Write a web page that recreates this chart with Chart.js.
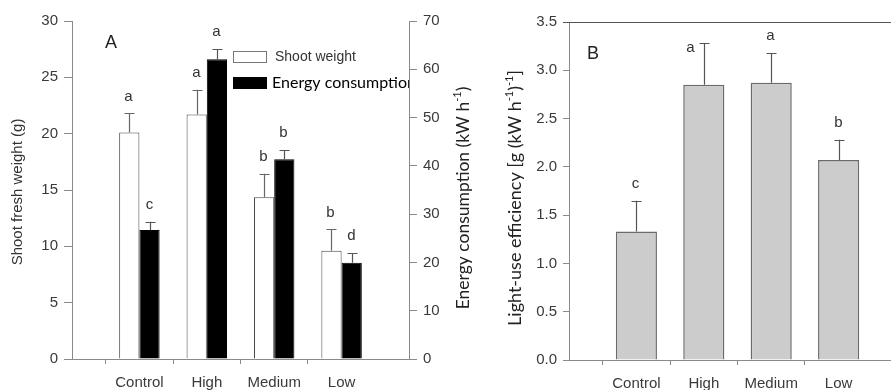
<!DOCTYPE html>
<html>
<head>
<meta charset="utf-8">
<script src="https://cdn.jsdelivr.net/npm/chart.js@4.4.0/dist/chart.umd.min.js"></script>
<style>
  html, body { margin: 0; padding: 0; width: 891px; height: 390px; overflow: hidden; background: #fff; }
  #wrap { position: relative; width: 891px; height: 390px; overflow: hidden; }
  #cA { position: absolute; left: 0; top: 0; }
  #cB { position: absolute; left: 480px; top: 0; }
</style>
</head>
<body>
<div id="wrap">
  <canvas id="cA" width="490" height="390"></canvas>
  <canvas id="cB" width="440" height="390"></canvas>
</div>
<script>
// ---------- data ----------
const categories = ['Control', 'High', 'Medium', 'Low'];
const shootWeight = [20.1, 21.7, 14.35, 9.6];
const shootWeightErr = [1.7, 2.2, 2.1, 1.9];
const shootLetters = ['a', 'a', 'b', 'b'];
const energyUse = [26.7, 62.1, 41.35, 19.95];
const energyUseErr = [1.7, 2.1, 1.95, 2.0];
const energyLetters = ['c', 'a', 'b', 'd'];
const lightUseEff = [1.33, 2.85, 2.87, 2.07];
const lightUseEffErr = [0.32, 0.43, 0.31, 0.21];
const lightUseLetters = ['c', 'a', 'a', 'b'];
const leftTicksA = [0, 5, 10, 15, 20, 25, 30];
const rightTicksA = [0, 10, 20, 30, 40, 50, 60, 70];
const ticksB = [0, 0.5, 1, 1.5, 2, 2.5, 3, 3.5];

// padded so that categories sit on grid positions with an empty slot each side
const axisLabels = [''].concat(categories, ['']);
const pad = arr => [null].concat(arr, [null]);

Chart.defaults.animation = false;
Chart.defaults.font.family = "'Liberation Sans', Arial, sans-serif";

const AXIS = '#8a8a8a';
const TICKC = '#3a3a3a';
const ARIAL = "'Liberation Sans', Arial, sans-serif";
const CAL = "Lato, 'Liberation Sans', sans-serif";

function drawVText(ctx, cx, cy, parts, size, family, color) {
  ctx.save();
  ctx.translate(cx, cy);
  ctx.rotate(-Math.PI / 2);
  ctx.fillStyle = color;
  ctx.textBaseline = 'middle';
  ctx.textAlign = 'left';
  const mainFont = size + 'px ' + family;
  const supFont = Math.round(size * 0.62) + 'px ' + family;
  let total = 0;
  parts.forEach(p => { ctx.font = p.sup ? supFont : mainFont; total += ctx.measureText(p.t).width; });
  let x = -total / 2;
  parts.forEach(p => {
    ctx.font = p.sup ? supFont : mainFont;
    ctx.fillText(p.t, x, p.sup ? -size * 0.33 : 0);
    x += ctx.measureText(p.t).width;
  });
  ctx.restore();
}

function errorBars(chart, specs) {
  const ctx = chart.ctx;
  const ca = chart.chartArea;
  specs.forEach(s => {
    const meta = chart.getDatasetMeta(s.ds);
    const scale = chart.scales[meta.yAxisID];
    meta.data.forEach((bar, i) => {
      const v = chart.data.datasets[s.ds].data[i];
      if (v === null || v === undefined) return;
      const k = i - 1;
      const top = scale.getPixelForValue(v + s.err[k]);
      const x = Math.round(bar.x) + 0.5;
      ctx.save();
      ctx.strokeStyle = s.color;
      ctx.lineWidth = 1.2;
      ctx.beginPath();
      ctx.moveTo(x, bar.y);
      ctx.lineTo(x, top);
      ctx.moveTo(x - 5, Math.round(top) + 0.5);
      ctx.lineTo(x + 5, Math.round(top) + 0.5);
      ctx.stroke();
      ctx.fillStyle = '#333';
      ctx.font = '15px ' + ARIAL;
      ctx.textAlign = 'center';
      ctx.textBaseline = 'middle';
      // if there is no room above the bar (framed top), set the letter beside it
      if (s.framed && top - 17 < ca.top + 12) {
        ctx.fillText(s.letters[k], x - 14, top + 5);
      } else {
        ctx.fillText(s.letters[k], x - 1, top - 17);
      }
      ctx.restore();
    });
  });
}

const hideEdge = c => (c.index === 0 || c.index === axisLabels.length - 1) ? 'rgba(0,0,0,0)' : AXIS;

// ---------- Panel A ----------
const pluginA = {
  id: 'panelA',
  afterDatasetsDraw(chart) {
    const ctx = chart.ctx;
    const ca = chart.chartArea;
    errorBars(chart, [
      { ds: 0, err: shootWeightErr, letters: shootLetters, color: '#666' },
      { ds: 1, err: energyUseErr, letters: energyLetters, color: '#555' }
    ]);
    // panel letter
    ctx.save();
    ctx.fillStyle = '#222';
    ctx.font = '18px ' + ARIAL;
    ctx.textAlign = 'center';
    ctx.textBaseline = 'middle';
    ctx.fillText('A', ca.left + 39, ca.top + 22);
    // legend (clipped to the plot area)
    ctx.beginPath();
    ctx.rect(ca.left, 0, ca.right - ca.left, chart.height);
    ctx.clip();
    ctx.fillStyle = '#fff';
    ctx.strokeStyle = '#777';
    ctx.lineWidth = 1;
    ctx.fillRect(233.5, 51.5, 33, 11);
    ctx.strokeRect(233.5, 51.5, 33, 11);
    ctx.fillStyle = '#000';
    ctx.fillRect(233, 77, 34, 12);
    ctx.textAlign = 'left';
    ctx.fillStyle = '#333';
    ctx.font = '14px ' + ARIAL;
    ctx.fillText(chart.data.datasets[0].label, 275, 57);
    ctx.fillStyle = '#000';
    ctx.font = '16px ' + CAL;
    ctx.fillText(chart.data.datasets[1].label, 272, 83);
    ctx.restore();
  },
  afterDraw(chart) {
    const ctx = chart.ctx;
    drawVText(ctx, 18, 192, [{ t: 'Shoot fresh weight (g)' }], 15, ARIAL, '#333');
    drawVText(ctx, 463, 198, [{ t: 'Energy consumption (kW h' }, { t: '-1', sup: true }, { t: ')' }], 17.5, CAL, '#222');
  }
};

new Chart(document.getElementById('cA'), {
  type: 'bar',
  data: {
    labels: axisLabels,
    datasets: [
      { label: 'Shoot weight', data: pad(shootWeight), yAxisID: 'y', backgroundColor: '#ffffff', borderColor: '#444', borderWidth: 1 },
      { label: 'Energy consumption', data: pad(energyUse), yAxisID: 'y1', backgroundColor: '#000000', borderColor: '#000', borderWidth: 1 }
    ]
  },
  options: {
    responsive: false,
    devicePixelRatio: 1,
    layout: { padding: { top: 21, left: 0, right: 0, bottom: 0 } },
    categoryPercentage: 0.6,
    barPercentage: 1.0,
    plugins: { legend: { display: false }, tooltip: { enabled: false } },
    scales: {
      x: {
        offset: false,
        grid: { drawOnChartArea: false, drawTicks: true, tickLength: 5, color: hideEdge },
        border: { display: true, color: AXIS, width: 1 },
        ticks: { color: TICKC, font: { size: 15, family: ARIAL }, padding: 10, maxRotation: 0, autoSkip: false },
        afterFit(s) { s.height = 31; }
      },
      y: {
        position: 'left', min: 0, max: 30,
        afterBuildTicks(s) { s.ticks = leftTicksA.map(v => ({ value: v })); },
        grid: { drawOnChartArea: false, drawTicks: true, tickLength: 8, color: AXIS },
        border: { display: true, color: AXIS, width: 1 },
        ticks: { color: TICKC, font: { size: 15, family: ARIAL }, padding: 6 },
        afterFit(s) { s.width = 72; }
      },
      y1: {
        position: 'right', min: 0, max: 70,
        afterBuildTicks(s) { s.ticks = rightTicksA.map(v => ({ value: v })); },
        grid: { drawOnChartArea: false, drawTicks: true, tickLength: 8, color: AXIS },
        border: { display: true, color: AXIS, width: 1 },
        ticks: { color: TICKC, font: { size: 15, family: ARIAL }, padding: 6 },
        afterFit(s) { s.width = 81; }
      }
    }
  },
  plugins: [pluginA]
});

// ---------- Panel B ----------
const pluginB = {
  id: 'panelB',
  afterDatasetsDraw(chart) {
    const ctx = chart.ctx;
    const ca = chart.chartArea;
    errorBars(chart, [
      { ds: 0, err: lightUseEffErr, letters: lightUseLetters, color: '#555', framed: true }
    ]);
    ctx.save();
    ctx.fillStyle = '#222';
    ctx.font = '18px ' + ARIAL;
    ctx.textAlign = 'center';
    ctx.textBaseline = 'middle';
    ctx.fillText('B', ca.left + 24, ca.top + 32);
    // top frame line
    ctx.strokeStyle = '#555';
    ctx.lineWidth = 1;
    ctx.beginPath();
    ctx.moveTo(ca.left - 6, Math.round(ca.top) + 0.5);
    ctx.lineTo(ca.right, Math.round(ca.top) + 0.5);
    ctx.stroke();
    ctx.restore();
  },
  afterDraw(chart) {
    drawVText(chart.ctx, 35, 198,
      [{ t: 'Light-use efficiency [g (kW h' }, { t: '-1', sup: true }, { t: ')' }, { t: '-1', sup: true }, { t: ']' }],
      18, CAL, '#222');
  }
};

new Chart(document.getElementById('cB'), {
  type: 'bar',
  data: {
    labels: axisLabels,
    datasets: [
      { label: 'Light-use efficiency', data: pad(lightUseEff), backgroundColor: '#cccccc', borderColor: '#6a6a6a', borderWidth: 1.5 }
    ]
  },
  options: {
    responsive: false,
    devicePixelRatio: 1,
    layout: { padding: { top: 22, left: 0, right: 14, bottom: 0 } },
    categoryPercentage: 1.0,
    barPercentage: 0.61,
    plugins: { legend: { display: false }, tooltip: { enabled: false } },
    scales: {
      x: {
        offset: false,
        grid: { drawOnChartArea: false, drawTicks: true, tickLength: 5, color: hideEdge },
        border: { display: true, color: AXIS, width: 1 },
        ticks: { color: TICKC, font: { size: 15, family: ARIAL }, padding: 10, maxRotation: 0, autoSkip: false },
        afterFit(s) { s.height = 30; }
      },
      y: {
        position: 'left', min: 0, max: 3.5,
        afterBuildTicks(s) { s.ticks = ticksB.map(v => ({ value: v })); },
        grid: { drawOnChartArea: false, drawTicks: true, tickLength: 6, color: AXIS },
        border: { display: true, color: AXIS, width: 1 },
        ticks: { color: TICKC, font: { size: 15, family: ARIAL }, padding: 6, callback: v => Number(v).toFixed(1) },
        afterFit(s) { s.width = 89; }
      }
    }
  },
  plugins: [pluginB]
});
</script>
</body>
</html>
